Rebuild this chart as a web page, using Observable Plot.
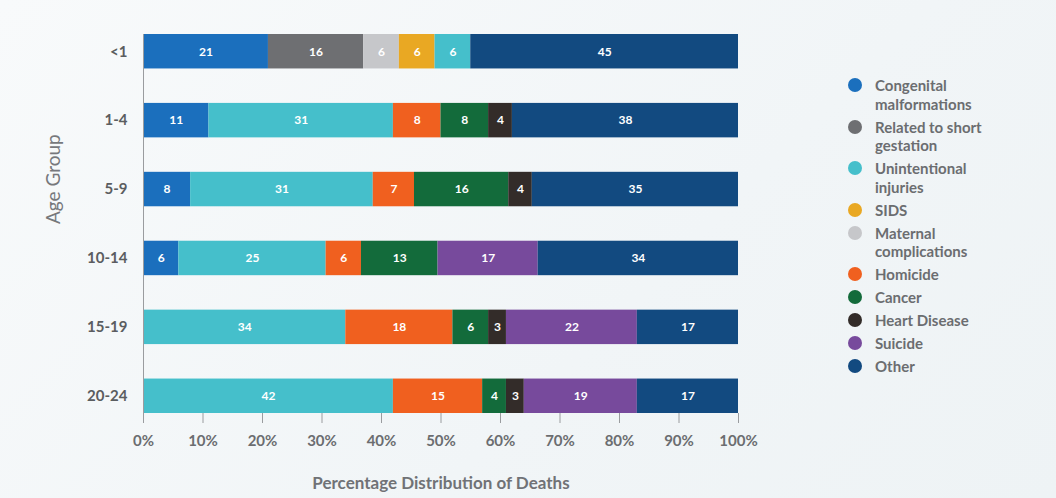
<!DOCTYPE html>
<html>
<head>
<meta charset="utf-8">
<script src="https://cdn.jsdelivr.net/npm/d3@7"></script>
<script src="https://cdn.jsdelivr.net/npm/@observablehq/plot@0.6"></script>
<style>
  html, body { margin: 0; padding: 0; }
  body {
    width: 1056px; height: 498px; overflow: hidden; position: relative;
    background: linear-gradient(135deg, #f8fafb 0%, #f1f5f7 60%, #eef3f5 100%);
    font-family: Lato, "Open Sans", sans-serif;
  }
  #chart { position: absolute; left: 0; top: 0; }
  #legend { position: absolute; left: 848px; top: 76px; }
  .item { display: flex; align-items: flex-start; margin-bottom: 4.5px; }
  .dot { width: 14px; height: 14px; border-radius: 50%; flex: none; margin-top: 2px; margin-right: 13px; }
  .lab { font-size: 15px; line-height: 18.5px; color: #6b6d70; font-weight: 700; white-space: pre; }
</style>
</head>
<body>
<div id="chart"></div>
<div id="legend"></div>
<script>
// Age groups, top to bottom
const ageGroups = ["<1", "1-4", "5-9", "10-14", "15-19", "20-24"];

// Causes in the order they are stacked along each bar
const causes = [
  "Congenital malformations",
  "Related to short gestation",
  "Maternal complications",
  "SIDS",
  "Unintentional injuries",
  "Homicide",
  "Cancer",
  "Heart Disease",
  "Suicide",
  "Other"
];

// Causes in legend order, with their line breaks
const legendCauses = [
  "Congenital malformations",
  "Related to short gestation",
  "Unintentional injuries",
  "SIDS",
  "Maternal complications",
  "Homicide",
  "Cancer",
  "Heart Disease",
  "Suicide",
  "Other"
];
const legendLabels = [
  "Congenital\nmalformations",
  "Related to short\ngestation",
  "Unintentional\ninjuries",
  "SIDS",
  "Maternal\ncomplications",
  "Homicide",
  "Cancer",
  "Heart Disease",
  "Suicide",
  "Other"
];

const causeColors = {
  "Congenital malformations": "#1b6fbd",
  "Related to short gestation": "#6e6f72",
  "Maternal complications": "#c6c7ca",
  "SIDS": "#e9a823",
  "Unintentional injuries": "#45bfcb",
  "Homicide": "#f0601f",
  "Cancer": "#136b3b",
  "Heart Disease": "#332c29",
  "Suicide": "#774a9c",
  "Other": "#124a80"
};

// Percentage of deaths per age group (null = not among leading causes)
const congenital     = [21, 11,  8,  6, null, null];
const shortGestation = [16, null, null, null, null, null];
const maternal       = [ 6, null, null, null, null, null];
const sids           = [ 6, null, null, null, null, null];
const unintentional  = [ 6, 31, 31, 25, 34, 42];
const homicide       = [null, 8,  7,  6, 18, 15];
const cancer         = [null, 8, 16, 13,  6,  4];
const heartDisease   = [null, 4,  4, null, 3,  3];
const suicide        = [null, null, null, 17, 22, 19];
const other          = [45, 38, 35, 34, 17, 17];

const seriesValues = [congenital, shortGestation, maternal, sids, unintentional,
                      homicide, cancer, heartDisease, suicide, other];

const rows = [];
causes.forEach((cause, i) => {
  ageGroups.forEach((age, j) => {
    const v = seriesValues[i][j];
    if (v != null) rows.push({age, cause, value: v});
  });
});

const stackOpts = {offset: "normalize", x: "value", y: "age", z: "cause", order: causes};

const chart = Plot.plot({
  width: 1056,
  height: 498,
  marginLeft: 143,
  marginRight: 318,
  marginTop: 34,
  marginBottom: 85,
  style: {background: "transparent", fontFamily: "Lato, 'Open Sans', sans-serif"},
  x: {domain: [0, 1]},
  y: {domain: ageGroups, paddingInner: 0.5, paddingOuter: 0, round: false},
  color: {domain: causes, range: causes.map(c => causeColors[c])},
  marks: [
    Plot.barX(rows, Plot.stackX({...stackOpts, fill: "cause"})),
    Plot.text(rows, Plot.stackX({
      ...stackOpts, text: "value", fill: "white", fontWeight: "bold", fontSize: 12
    })),
    Plot.ruleX([0], {stroke: "#9a9c9f", strokeWidth: 1}),
    Plot.axisX({
      ticks: d3.range(0, 11).map(d => d / 10),
      tickFormat: d3.format(".0%"),
      tickSize: 10, tickPadding: 12, fontSize: 15, fontWeight: "bold", fill: "#6b6d70",
      stroke: "#9a9c9f", label: null
    }),
    Plot.axisY({
      tickSize: 0, tickPadding: 16, fontSize: 15, fontWeight: "bold",
      fill: "#5b5d60", label: null
    }),
    Plot.text(["Age Group"], {
      frameAnchor: "left", dx: -90, rotate: -90, text: d => d,
      fontSize: 19, fill: "#76787c"
    }),
    Plot.text(["Percentage Distribution of Deaths"], {
      frameAnchor: "bottom", dy: 75, text: d => d,
      fontSize: 17, fill: "#707276", fontWeight: "bold"
    })
  ]
});
document.getElementById("chart").append(chart);

// Legend, listed in its own order
const legend = document.getElementById("legend");
legendCauses.forEach((c, i) => {
  const item = document.createElement("div");
  item.className = "item";
  const dot = document.createElement("span");
  dot.className = "dot";
  dot.style.background = causeColors[c];
  const lab = document.createElement("span");
  lab.className = "lab";
  lab.textContent = legendLabels[i];
  item.append(dot, lab);
  legend.append(item);
});
</script>
</body>
</html>
